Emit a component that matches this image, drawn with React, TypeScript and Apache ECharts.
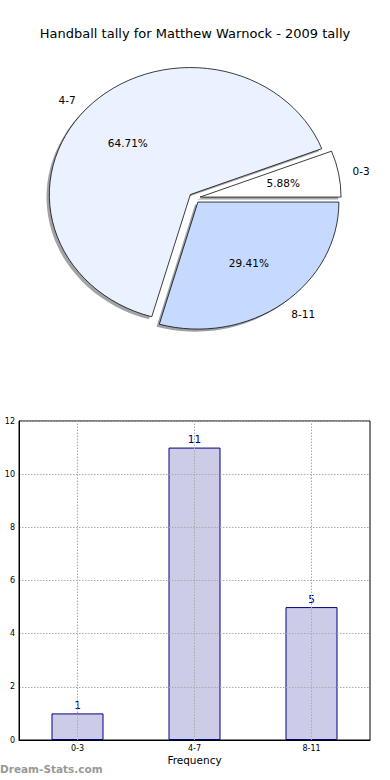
import React, { useEffect, useRef } from 'react';
import * as echarts from 'echarts';

const titleText = 'Handball tally for Matthew Warnock - 2009 tally';
const categories = ['0-3', '4-7', '8-11'];
const counts = [1, 11, 5];
const pieColors = ['#FFFFFF', '#EAF1FF', '#C6D9FF'];
const yMin = 0;
const yMax = 12;
const yInterval = 2;
const xAxisName = 'Frequency';
const yAxisName = 'Stat Count Tally';
const watermark = 'Dream-Stats.com';

const FONT = '"DejaVu Sans", sans-serif';

function shadowOf(hex: string) {
  const n = parseInt(hex.slice(1), 16);
  const r = Math.round(((n >> 16) & 255) * 0.3);
  const g = Math.round(((n >> 8) & 255) * 0.3);
  const b = Math.round((n & 255) * 0.3);
  return `rgba(${r},${g},${b},0.5)`;
}

export default function App() {
  const ref = useRef<HTMLDivElement>(null);
  useEffect(() => {
    document.body.style.margin = '0';
    const chart = echarts.init(ref.current!, null, { renderer: 'svg' });
    const total = counts.reduce((a, b) => a + b, 0);
    const cx = 194.5, cy = 198, rx = 141, ry = 127, explode = 0.04;

    const renderSlice = (params: any) => {
      const i = params.dataIndex;
      let before = 0;
      for (let k = 0; k < i; k++) before += counts[k];
      const a0 = (before / total) * 2 * Math.PI;
      const a1 = ((before + counts[i]) / total) * 2 * Math.PI;
      const mid = (a0 + a1) / 2;
      const c = Math.cos(mid), s = Math.sin(mid);
      const ox = cx + explode * rx * c;
      const oy = cy - explode * ry * s;
      const sy = ry / rx;
      const shape = { cx: 0, cy: 0, r: rx, r0: 0, startAngle: -a1, endAngle: -a0, clockwise: true };
      const pct = ((counts[i] / total) * 100).toFixed(2) + '%';
      return {
        type: 'group',
        children: [
          {
            type: 'sector', x: ox - 0.02 * rx, y: oy + 0.02 * ry, scaleY: sy, shape, z2: 0, silent: true,
            style: { fill: shadowOf(pieColors[i]), stroke: 'none' },
          },
          {
            type: 'sector', x: ox, y: oy, scaleY: sy, shape, z2: 10,
            style: { fill: pieColors[i], stroke: '#000', lineWidth: 0.8, strokeNoScale: true },
          },
          {
            type: 'text', x: ox + 0.6 * rx * c, y: oy - 0.6 * ry * s, z2: 20,
            style: { text: pct, fill: '#000', font: `10.5px ${FONT}`, align: 'center', verticalAlign: 'middle' },
          },
          {
            type: 'text', x: ox + 1.1 * rx * c, y: oy - 1.1 * ry * s, z2: 20,
            style: { text: categories[i], fill: '#000', font: `10.5px ${FONT}`, align: c > 0 ? 'left' : 'right', verticalAlign: 'middle' },
          },
        ],
      };
    };

    const dotted = { color: '#aaa', width: 1, type: [1.5, 1.5] as any };

    chart.setOption({
      animation: false,
      backgroundColor: '#fff',
      textStyle: { fontFamily: FONT },
      title: {
        text: titleText, left: 'center', top: 22,
        textStyle: { fontSize: 13, fontWeight: 'normal', color: '#000', fontFamily: FONT },
      },
      grid: {
        left: 19, top: 421, width: 351, height: 319, show: true, borderColor: '#000', borderWidth: 1,
        backgroundColor: 'transparent', containLabel: false, outerBoundsMode: 'none',
      },
      xAxis: {
        type: 'category', data: categories, z: 3,
        axisLine: { lineStyle: { color: '#000' } },
        axisTick: { show: false },
        axisLabel: { fontSize: 8, color: '#000', margin: 4, fontFamily: FONT },
        splitLine: { show: false },
        name: xAxisName, nameLocation: 'middle', nameGap: 14,
        nameTextStyle: { fontSize: 10.5, color: '#000', fontFamily: FONT },
      },
      yAxis: {
        type: 'value', min: yMin, max: yMax, interval: yInterval, z: 3,
        axisLine: { show: true, lineStyle: { color: '#000' } },
        axisTick: { show: false },
        axisLabel: { fontSize: 8, color: '#000', margin: 4, fontFamily: FONT },
        splitLine: { show: true, lineStyle: dotted },
        name: yAxisName, nameLocation: 'middle', nameGap: 16,
        nameTextStyle: { fontSize: 10, color: '#000', fontFamily: FONT },
      },
      graphic: [
        {
          type: 'text', left: 0, top: 763,
          style: { text: watermark, fill: '#999', font: `bold 10.5px ${FONT}` },
        },
      ],
      series: [
        {
          type: 'custom', coordinateSystem: 'none', renderItem: renderSlice,
          data: counts.map((v, i) => ({ value: v, name: categories[i] })),
        },
        {
          type: 'bar', data: counts, barWidth: 52, z: 2,
          itemStyle: { color: '#CCCCE6', borderColor: '#000080', borderWidth: 1 },
          label: { show: true, position: 'top', distance: 3, color: '#000080', fontSize: 10.5, fontFamily: FONT },
          markLine: {
            silent: true, symbol: 'none', z: 4,
            label: { show: false },
            lineStyle: dotted,
            data: categories.map((c) => ({ xAxis: c })),
          },
        },
      ],
    });
    return () => chart.dispose();
  }, []);
  return <div ref={ref} style={{ position: 'fixed', left: 0, top: 0, width: 390, height: 780 }} />;
}
